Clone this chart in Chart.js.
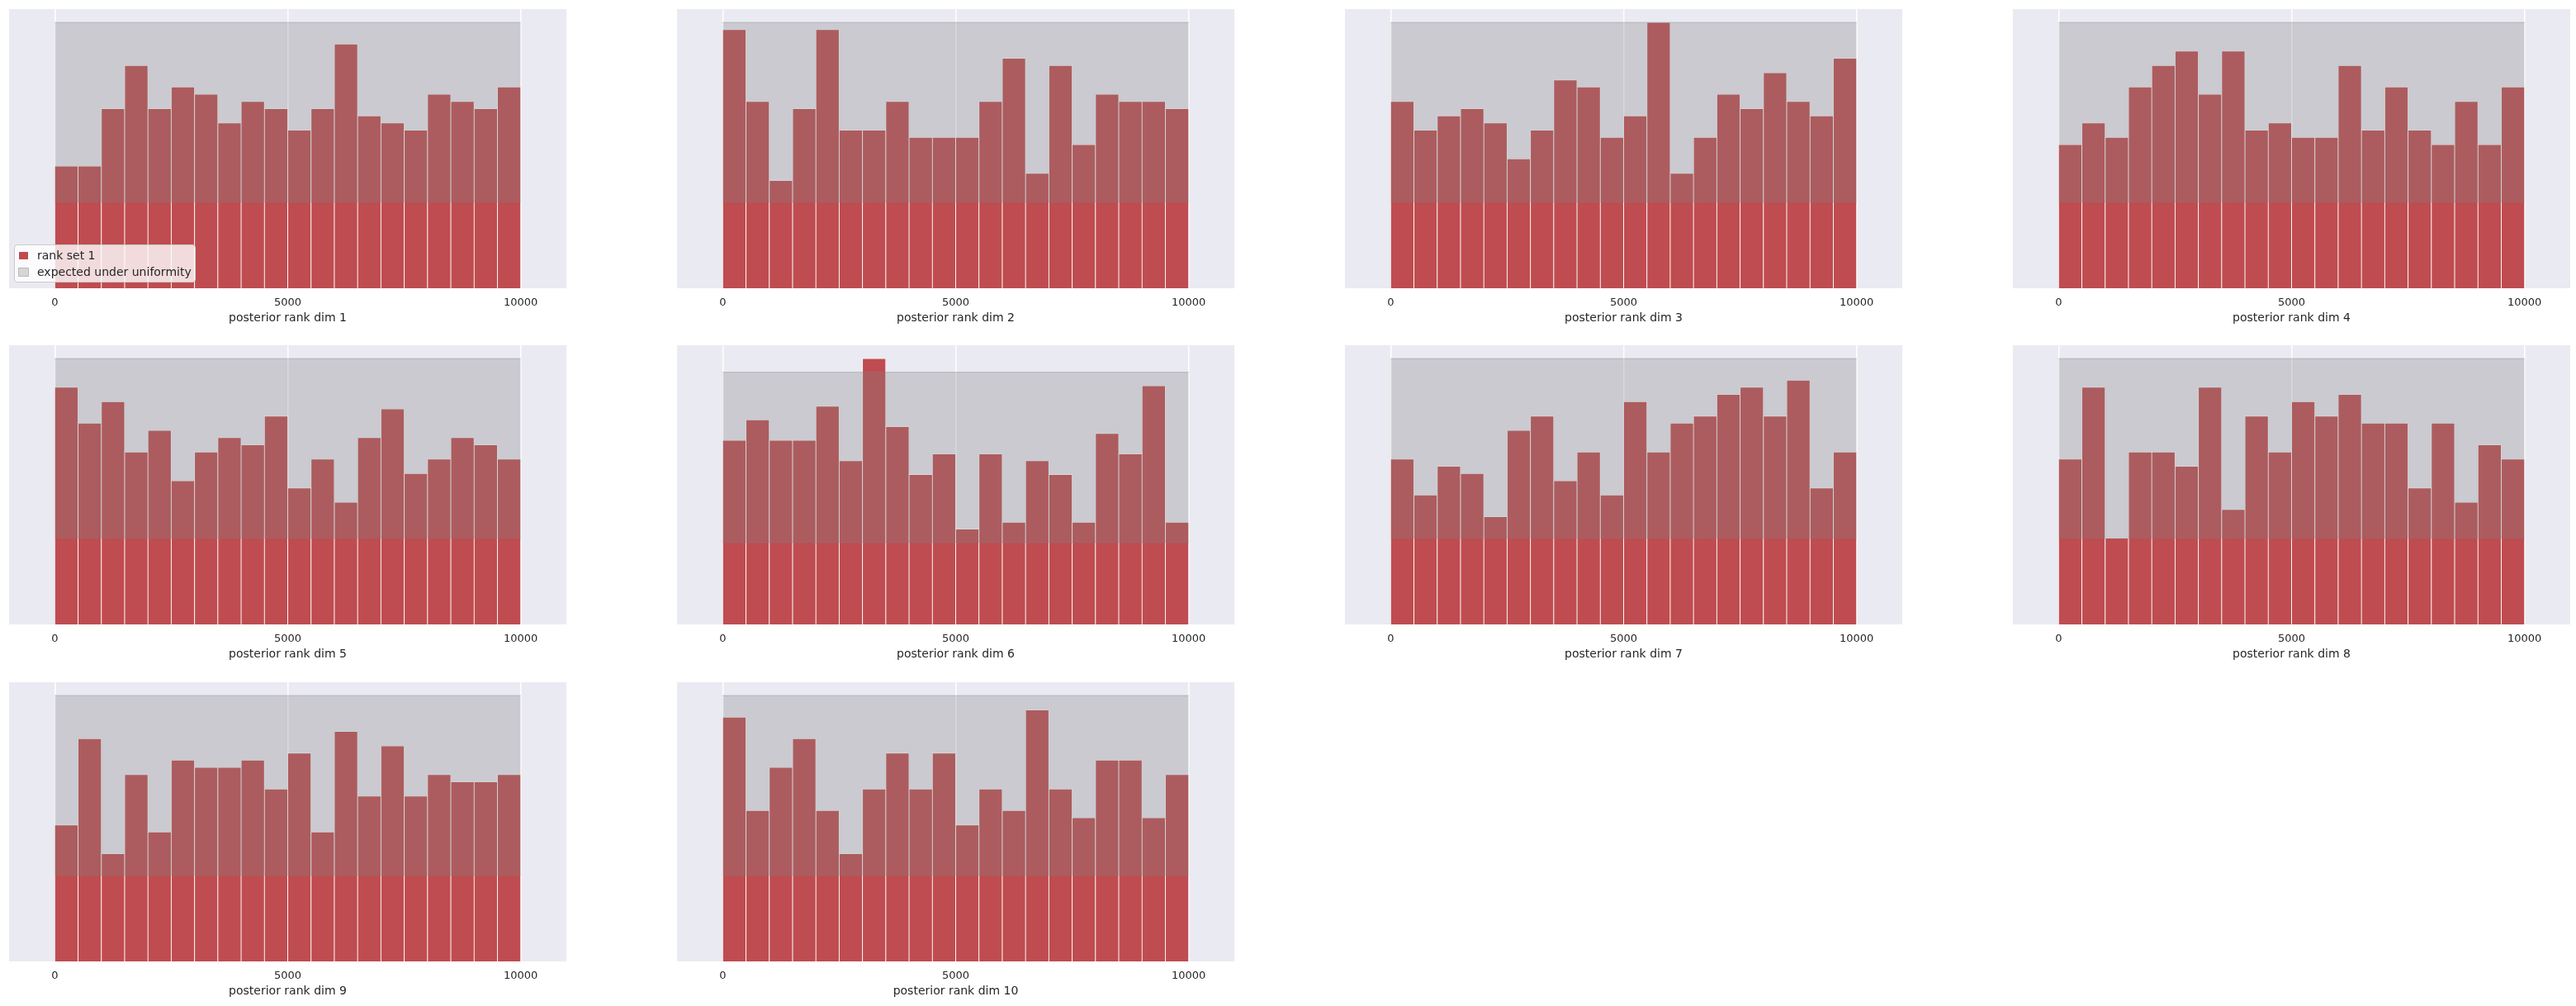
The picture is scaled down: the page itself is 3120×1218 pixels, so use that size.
<!DOCTYPE html>
<html>
<head>
<meta charset="utf-8">
<title>posterior rank histograms</title>
<script src="https://cdn.jsdelivr.net/npm/chart.js@4.4.1/dist/chart.umd.min.js"></script>
<style>
    html, body { margin: 0; padding: 0; background: #ffffff; }
    #fig { position: relative; width: 3120px; height: 1218px; overflow: hidden; }
    .panel { position: absolute; }
    .legend {
        position: absolute;
        left: 17px;
        top: 296px;
        padding: 2px 4px 2px 4px;
        border: 1px solid #cccccc;
        border-radius: 4px;
        background: rgba(255, 255, 255, 0.8);
        font: 14px "DejaVu Sans", sans-serif;
        color: #262626;
        line-height: 20px;
        white-space: nowrap;
    }
    .legend .swatch {
        display: inline-block;
        width: 13px;
        height: 11px;
        margin-right: 10px;
        vertical-align: -1px;
        box-sizing: border-box;
    }
</style>
</head>
<body>
<div id="fig"></div>
<script>
// histogram bins (20 bins over 0..10000), counts out of 500 sbc runs
const binCenters = [250, 750, 1250, 1750, 2250, 2750, 3250, 3750, 4250, 4750,
    5250, 5750, 6250, 6750, 7250, 7750, 8250, 8750, 9250, 9750];

const rankDim1 = [17, 17, 25, 31, 25, 28, 27, 23, 26, 25, 22, 25, 34, 24, 23, 22, 27, 26, 25, 28];
const rankDim2 = [36, 26, 15, 25, 36, 22, 22, 26, 21, 21, 21, 26, 32, 16, 31, 20, 27, 26, 26, 25];
const rankDim3 = [26, 22, 24, 25, 23, 18, 22, 29, 28, 21, 24, 37, 16, 21, 27, 25, 30, 26, 24, 32];
const rankDim4 = [20, 23, 21, 28, 31, 33, 27, 33, 22, 23, 21, 21, 31, 22, 28, 22, 20, 26, 20, 28];
const rankDim5 = [33, 28, 31, 24, 27, 20, 24, 26, 25, 29, 19, 23, 17, 26, 30, 21, 23, 26, 25, 23];
const rankDim6 = [27, 30, 27, 27, 32, 24, 39, 29, 22, 25, 14, 25, 15, 24, 22, 15, 28, 25, 35, 15];
const rankDim7 = [23, 18, 22, 21, 15, 27, 29, 20, 24, 18, 31, 24, 28, 29, 32, 33, 29, 34, 19, 24];
const rankDim8 = [23, 33, 12, 24, 24, 22, 33, 16, 29, 24, 31, 29, 32, 28, 28, 19, 28, 17, 25, 23];
const rankDim9 = [19, 31, 15, 26, 18, 28, 27, 27, 28, 24, 29, 18, 32, 23, 30, 23, 26, 25, 25, 26];
const rankDim10 = [34, 21, 27, 31, 21, 15, 24, 29, 24, 29, 19, 24, 21, 35, 24, 20, 28, 28, 20, 26];

const allDims = [rankDim1, rankDim2, rankDim3, rankDim4, rankDim5,
    rankDim6, rankDim7, rankDim8, rankDim9, rankDim10];

// band expected under uniformity
const uniformLower = 12;
const uniformUpper = 37;
const bandX = [0, 10000];

const xTicks = [0, 5000, 10000];
const axisLabels = allDims.map((d, i) => "posterior rank dim " + (i + 1));
const legendLabels = ["rank set 1", "expected under uniformity"];

// layout (px)
const colLeft = [11, 820, 1629, 2438];
const rowTop = [11, 418, 826];
const axW = 675;
const axH = 338;
const labelH = 50;
const xMin = -980;
const xMax = 10980;

const textColor = "#262626";
const barRed = "rgb(191, 76, 80)";
const bandGray = "rgba(128, 128, 128, 0.3)";

Chart.defaults.font.family = "'DejaVu Sans', sans-serif";
Chart.defaults.font.size = 13;
Chart.defaults.color = textColor;

const axesBackground = {
    id: "axesBackground",
    beforeDraw(chart) {
        const { ctx, chartArea } = chart;
        ctx.save();
        ctx.fillStyle = "#EAEAF2";
        ctx.fillRect(chartArea.left, chartArea.top, chartArea.width, chartArea.height);
        ctx.restore();
    },
};

const fig = document.getElementById("fig");

allDims.forEach((counts, i) => {
    const r = Math.floor(i / 4);
    const c = i % 4;
    const panel = document.createElement("div");
    panel.className = "panel";
    panel.style.left = colLeft[c] + "px";
    panel.style.top = rowTop[r] + "px";
    panel.style.width = axW + "px";
    panel.style.height = axH + labelH + "px";
    const canvas = document.createElement("canvas");
    panel.appendChild(canvas);
    fig.appendChild(panel);

    // matplotlib-style 5% top margin over the tallest artist
    const yTop = Math.max(uniformUpper, ...counts) * 1.05;

    new Chart(canvas, {
        type: "bar",
        data: {
            datasets: [
                {
                    label: legendLabels[0],
                    data: binCenters.map((x, j) => ({ x: x, y: counts[j] })),
                    backgroundColor: barRed,
                    borderColor: "#ffffff",
                    borderWidth: 0.8,
                    barPercentage: 1,
                    categoryPercentage: 1,
                    order: 3,
                },
                {
                    type: "line",
                    label: "lower",
                    data: bandX.map((x) => ({ x: x, y: uniformLower })),
                    borderColor: bandGray,
                    borderWidth: 1.3,
                    pointRadius: 0,
                    fill: false,
                    order: 2,
                },
                {
                    type: "line",
                    label: legendLabels[1],
                    data: bandX.map((x) => ({ x: x, y: uniformUpper })),
                    borderColor: bandGray,
                    backgroundColor: bandGray,
                    borderWidth: 1.3,
                    pointRadius: 0,
                    fill: "-1",
                    order: 1,
                },
            ],
        },
        options: {
            responsive: true,
            maintainAspectRatio: false,
            animation: false,
            events: [],
            layout: { padding: 0 },
            plugins: {
                legend: { display: false },
                tooltip: { enabled: false },
            },
            scales: {
                x: {
                    type: "linear",
                    min: xMin,
                    max: xMax,
                    offset: false,
                    grid: {
                        offset: false,
                        color: "#ffffff",
                        lineWidth: 1.5,
                        drawTicks: false,
                    },
                    border: { display: false },
                    ticks: {
                        padding: 10,
                        autoSkip: false,
                        maxRotation: 0,
                        color: textColor,
                        font: { size: 13 },
                        callback: (v) => String(v),
                    },
                    afterBuildTicks: (scale) => {
                        scale.ticks = xTicks.map((v) => ({ value: v }));
                    },
                    afterFit: (scale) => {
                        scale.height = labelH;
                    },
                    title: {
                        display: true,
                        text: axisLabels[i],
                        color: textColor,
                        font: { size: 14 },
                        padding: { top: 0, bottom: 5 },
                    },
                },
                y: {
                    display: false,
                    min: 0,
                    max: yTop,
                },
            },
        },
        plugins: [axesBackground],
    });
});

// legend of the first panel
const legend = document.createElement("div");
legend.className = "legend";
legend.innerHTML =
    '<div><span class="swatch" style="background:' + barRed + ';border:1px solid #fff"></span>' + legendLabels[0] + '</div>' +
    '<div><span class="swatch" style="background:rgba(128,128,128,0.3);border:1px solid rgba(128,128,128,0.35)"></span>' + legendLabels[1] + '</div>';
fig.appendChild(legend);
</script>
</body>
</html>
